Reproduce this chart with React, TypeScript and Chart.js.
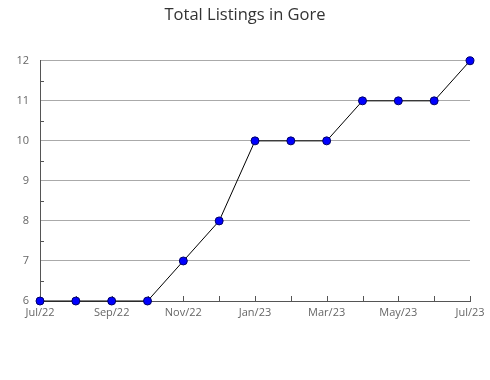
import React, { useEffect, useRef } from "react";
import { Chart, registerables } from "chart.js";

Chart.register(...registerables);

const months = ["Jul/22", "Aug/22", "Sep/22", "Oct/22", "Nov/22", "Dec/22", "Jan/23", "Feb/23", "Mar/23", "Apr/23", "May/23", "Jun/23", "Jul/23"];
const listings = [6, 6, 6, 6, 7, 8, 10, 10, 10, 11, 11, 11, 12];
const yMin = 6;
const yMax = 12;
const titleText = "Total Listings in Gore";

const innerTicks = {
  id: "innerTicks",
  beforeDatasetsDraw(chart: any) {
    const ctx = chart.ctx;
    const x = chart.scales.x;
    const y = chart.scales.y;
    const area = chart.chartArea;
    ctx.save();
    ctx.strokeStyle = "#555";
    ctx.lineWidth = 1;
    ctx.beginPath();
    for (let i = 0; i < months.length; i++) {
      const px = Math.round(x.getPixelForValue(i)) + 0.5;
      ctx.moveTo(px, area.bottom);
      ctx.lineTo(px, area.bottom - 5);
    }
    for (let v = yMin; v < yMax; v++) {
      const py = Math.round(y.getPixelForValue(v + 0.5)) + 0.5;
      ctx.moveTo(area.left, py);
      ctx.lineTo(area.left + 4, py);
    }
    ctx.stroke();
    ctx.restore();
  },
};

export default function App() {
  const ref = useRef<HTMLCanvasElement>(null);
  useEffect(() => {
    document.body.style.margin = "0";
    const chart = new Chart(ref.current!, {
      type: "line",
      data: {
        labels: months,
        datasets: [
          {
            data: listings,
            borderColor: "#000",
            borderWidth: 1,
            pointBackgroundColor: "#0000ff",
            pointBorderColor: "#000066",
            pointBorderWidth: 1,
            pointRadius: 4,
            tension: 0,
            clip: false,
          },
        ],
      },
      options: {
        animation: false,
        responsive: false,
        maintainAspectRatio: false,
        layout: { padding: { left: 0, right: 0, top: 0, bottom: 0 } },
        plugins: {
          legend: { display: false },
          tooltip: { enabled: false },
          title: {
            display: true,
            text: titleText,
            color: "#333",
            font: { family: "Open Sans", size: 16.5, weight: "normal" },
            padding: { top: 5, bottom: 36 },
          },
        },
        scales: {
          x: {
            type: "category",
            offset: false,
            grid: { display: false, drawTicks: false },
            border: { display: true, color: "#555" },
            ticks: {
              autoSkip: false,
              maxRotation: 0,
              padding: 5,
              color: "#666",
              font: { family: "Open Sans", size: 11 },
              callback: (_v: any, i: number) => (i % 2 === 0 ? months[i] : ""),
            },
            afterFit: (s: any) => {
              s.height = 79;
            },
          },
          y: {
            min: yMin,
            max: yMax,
            grid: { color: "#aaa", drawTicks: false },
            border: { display: true, color: "#555" },
            ticks: {
              stepSize: 1,
              padding: 11,
              color: "#666",
              font: { family: "Open Sans", size: 11 },
            },
            afterFit: (s: any) => {
              s.width = 40;
            },
          },
          yRight: {
            position: "right",
            min: yMin,
            max: yMax,
            grid: { display: false, drawTicks: false },
            border: { display: false },
            ticks: { display: false },
            afterFit: (s: any) => {
              s.width = 20;
            },
          },
        },
      },
      plugins: [innerTicks],
    });
    return () => chart.destroy();
  }, []);
  return <canvas ref={ref} width={490} height={380} style={{ display: "block" }} />;
}
